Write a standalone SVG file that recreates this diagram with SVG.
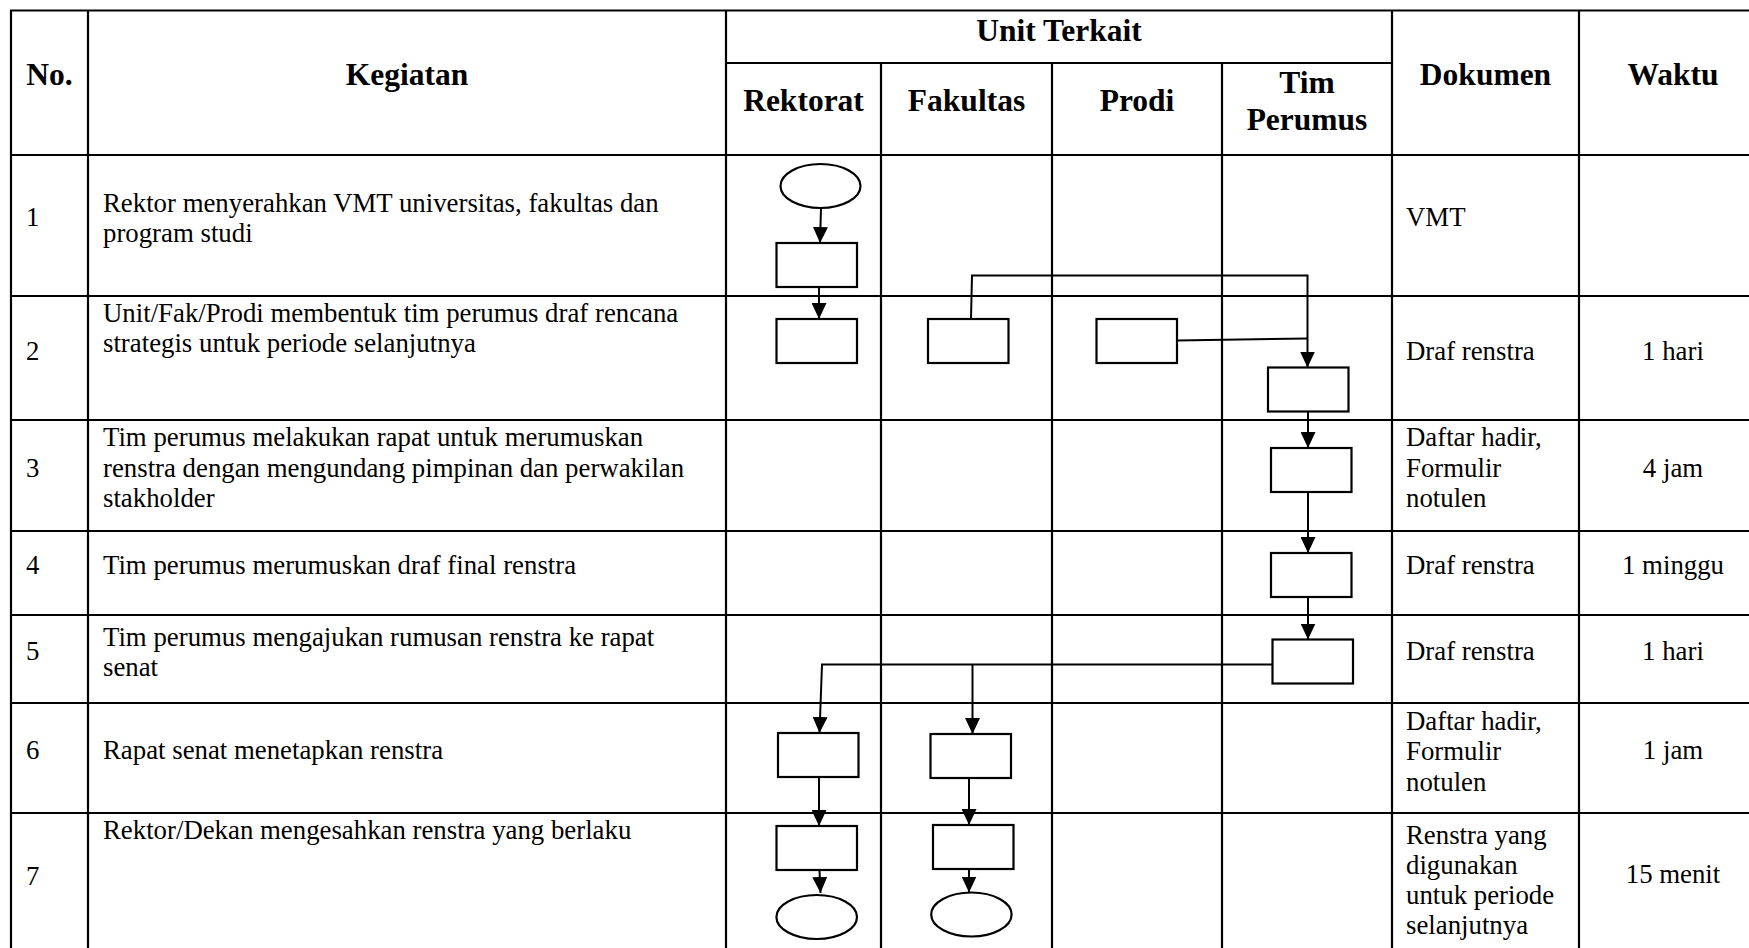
<svg xmlns="http://www.w3.org/2000/svg" width="1749" height="948" viewBox="0 0 1749 948">
<style>
.grid line{stroke:#000;stroke-width:2.2}
.hd{font-family:"Liberation Serif","Times New Roman",serif;font-weight:bold;font-size:31.5px;fill:#000;text-anchor:middle}
.tx{font-family:"Liberation Serif","Times New Roman",serif;font-size:26.8px;fill:#000}
.c{text-anchor:middle}
.shape{fill:#fff;stroke:#000;stroke-width:2.2}
.conn{fill:none;stroke:#000;stroke-width:2}
</style>
<defs>
<marker id="ah" viewBox="0 0 16 15" markerWidth="16" markerHeight="15" refX="16" refY="7.5" orient="auto" markerUnits="userSpaceOnUse">
<path d="M0,0 L16,7.5 L0,15 z" fill="#000"/>
</marker>
</defs>
<rect x="0" y="0" width="1749" height="948" fill="#fff"/>
<g id="table" class="grid">
<line x1="10" y1="10.5" x2="1749" y2="10.5"/>
<line x1="726" y1="63" x2="1392" y2="63"/>
<line x1="10" y1="155" x2="1749" y2="155"/>
<line x1="10" y1="296" x2="1749" y2="296"/>
<line x1="10" y1="420" x2="1749" y2="420"/>
<line x1="10" y1="531" x2="1749" y2="531"/>
<line x1="10" y1="615" x2="1749" y2="615"/>
<line x1="10" y1="703" x2="1749" y2="703"/>
<line x1="10" y1="813" x2="1749" y2="813"/>
<line x1="11" y1="10" x2="11" y2="948"/>
<line x1="88" y1="10" x2="88" y2="948"/>
<line x1="726" y1="10" x2="726" y2="948"/>
<line x1="881" y1="63" x2="881" y2="948"/>
<line x1="1052" y1="63" x2="1052" y2="948"/>
<line x1="1222" y1="63" x2="1222" y2="948"/>
<line x1="1392" y1="10" x2="1392" y2="948"/>
<line x1="1579" y1="10" x2="1579" y2="948"/>
</g>
<g id="header">
<text class="hd" x="49.5" y="85">No.</text>
<text class="hd" x="407" y="85">Kegiatan</text>
<text class="hd" x="1059" y="41">Unit Terkait</text>
<text class="hd" x="803.5" y="111">Rektorat</text>
<text class="hd" x="966.5" y="111">Fakultas</text>
<text class="hd" x="1137" y="111">Prodi</text>
<text class="hd" x="1307" y="93">Tim</text>
<text class="hd" x="1307" y="130">Perumus</text>
<text class="hd" x="1485.5" y="85">Dokumen</text>
<text class="hd" x="1673" y="85">Waktu</text>
</g>
<g id="row1">
<text class="tx" x="26" y="226">1</text>
<text class="tx" x="103" y="212">Rektor menyerahkan VMT universitas, fakultas dan</text>
<text class="tx" x="103" y="242">program studi</text>
<text class="tx" x="1406" y="226">VMT</text>
</g>
<g id="row2">
<text class="tx" x="26" y="360">2</text>
<text class="tx" x="103" y="322">Unit/Fak/Prodi membentuk tim perumus draf rencana</text>
<text class="tx" x="103" y="352">strategis untuk periode selanjutnya</text>
<text class="tx" x="1406" y="360">Draf renstra</text>
<text class="tx c" x="1673" y="360">1 hari</text>
</g>
<g id="row3">
<text class="tx" x="26" y="477">3</text>
<text class="tx" x="103" y="446">Tim perumus melakukan rapat untuk merumuskan</text>
<text class="tx" x="103" y="476.5">renstra dengan mengundang pimpinan dan perwakilan</text>
<text class="tx" x="103" y="507">stakholder</text>
<text class="tx" x="1406" y="446">Daftar hadir,</text>
<text class="tx" x="1406" y="476.5">Formulir</text>
<text class="tx" x="1406" y="507">notulen</text>
<text class="tx c" x="1673" y="477">4 jam</text>
</g>
<g id="row4">
<text class="tx" x="26" y="574">4</text>
<text class="tx" x="103" y="574">Tim perumus merumuskan draf final renstra</text>
<text class="tx" x="1406" y="574">Draf renstra</text>
<text class="tx c" x="1673" y="574">1 minggu</text>
</g>
<g id="row5">
<text class="tx" x="26" y="660">5</text>
<text class="tx" x="103" y="646">Tim perumus mengajukan rumusan renstra ke rapat</text>
<text class="tx" x="103" y="676">senat</text>
<text class="tx" x="1406" y="660">Draf renstra</text>
<text class="tx c" x="1673" y="660">1 hari</text>
</g>
<g id="row6">
<text class="tx" x="26" y="759">6</text>
<text class="tx" x="103" y="759">Rapat senat menetapkan renstra</text>
<text class="tx" x="1406" y="729.5">Daftar hadir,</text>
<text class="tx" x="1406" y="760">Formulir</text>
<text class="tx" x="1406" y="790.5">notulen</text>
<text class="tx c" x="1673" y="759">1 jam</text>
</g>
<g id="row7">
<text class="tx" x="26" y="885">7</text>
<text class="tx" x="103" y="839">Rektor/Dekan mengesahkan renstra yang berlaku</text>
<text class="tx" x="1406" y="844">Renstra yang</text>
<text class="tx" x="1406" y="874">digunakan</text>
<text class="tx" x="1406" y="904">untuk periode</text>
<text class="tx" x="1406" y="934">selanjutnya</text>
<text class="tx c" x="1673" y="883">15 menit</text>
</g>
<g id="n-start"><ellipse class="shape" cx="820.5" cy="186" rx="40" ry="22"/></g>
<g id="n-r1"><rect class="shape" x="776.5" y="243" width="80.5" height="44"/></g>
<g id="n-r2"><rect class="shape" x="776.5" y="319" width="80.5" height="44"/></g>
<g id="n-f2"><rect class="shape" x="928" y="319" width="80.5" height="44"/></g>
<g id="n-p2"><rect class="shape" x="1096.5" y="319" width="80.5" height="44"/></g>
<g id="n-t2"><rect class="shape" x="1268" y="367.5" width="80.5" height="44"/></g>
<g id="n-t3"><rect class="shape" x="1271" y="448" width="80.5" height="44"/></g>
<g id="n-t4"><rect class="shape" x="1271" y="553" width="80.5" height="44"/></g>
<g id="n-t5"><rect class="shape" x="1272.5" y="639.5" width="80.5" height="44"/></g>
<g id="n-r6"><rect class="shape" x="778" y="733" width="80.5" height="44"/></g>
<g id="n-f6"><rect class="shape" x="930.5" y="734" width="80.5" height="44"/></g>
<g id="n-r7"><rect class="shape" x="776.5" y="826" width="80.5" height="44"/></g>
<g id="n-f7"><rect class="shape" x="933" y="825" width="80.5" height="44"/></g>
<g id="n-end-r"><ellipse class="shape" cx="816.7" cy="917" rx="40.3" ry="22"/></g>
<g id="n-end-f"><ellipse class="shape" cx="971.4" cy="914.5" rx="40.2" ry="22"/></g>
<g id="connectors" class="conn">
<path d="M821,208 L820,243" marker-end="url(#ah)"/>
<path d="M819,287 L819,319" marker-end="url(#ah)"/>
<path d="M971,319 L972,275.5 L1307.5,275.5 L1307.5,367.5" marker-end="url(#ah)"/>
<path d="M1177,340.5 L1307.5,338.5"/>
<path d="M1308,411.5 L1308,448" marker-end="url(#ah)"/>
<path d="M1308,492 L1308,553" marker-end="url(#ah)"/>
<path d="M1308,597 L1308,639.5" marker-end="url(#ah)"/>
<path d="M1272.5,664.5 L822,664.5 L819.5,733" marker-end="url(#ah)"/>
<path d="M972.5,664.5 L972.5,734" marker-end="url(#ah)"/>
<path d="M819,777 L819,826" marker-end="url(#ah)"/>
<path d="M969,778 L969,825" marker-end="url(#ah)"/>
<path d="M819.5,870 L820.5,893" marker-end="url(#ah)"/>
<path d="M969,869 L969,892.5" marker-end="url(#ah)"/>
</g>
</svg>
